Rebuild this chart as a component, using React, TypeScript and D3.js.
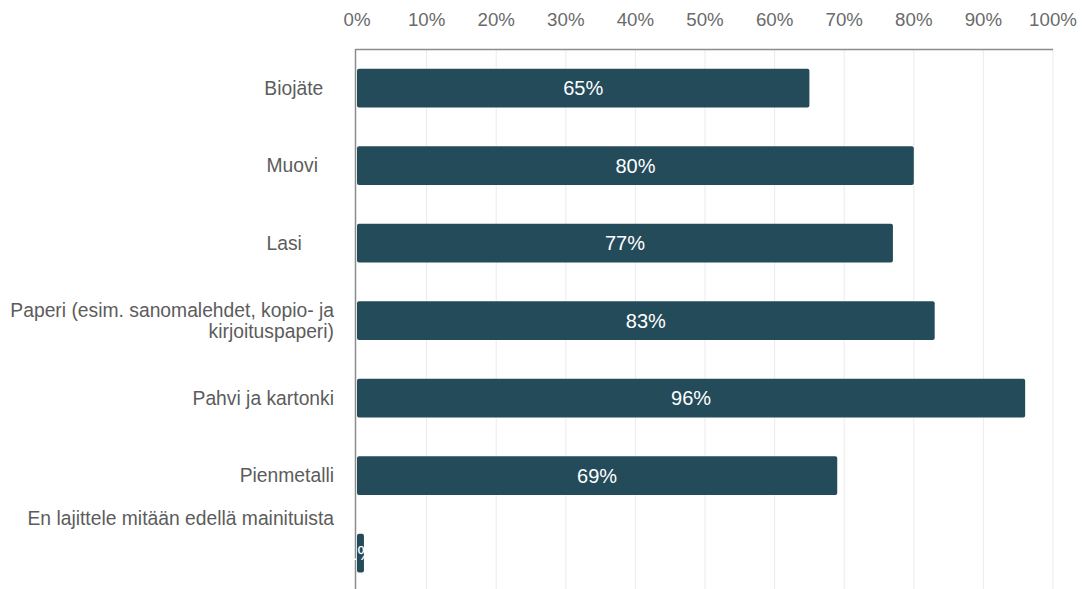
import React from "react";
import * as d3 from "d3";

const categories = [
  "Biojäte",
  "Muovi",
  "Lasi",
  "Paperi (esim. sanomalehdet, kopio- ja kirjoituspaperi)",
  "Pahvi ja kartonki",
  "Pienmetalli",
  "En lajittele mitään edellä mainituista",
];
const labelLines: string[][] = [
  ["Biojäte\u00a0\u00a0"],
  ["Muovi\u00a0\u00a0\u00a0"],
  ["Lasi\u00a0\u00a0\u00a0\u00a0\u00a0\u00a0"],
  ["Paperi (esim. sanomalehdet, kopio- ja", "kirjoituspaperi)"],
  ["Pahvi ja kartonki"],
  ["Pienmetalli"],
  ["En lajittele mitään edellä mainituista"],
];
const values = [65, 80, 77, 83, 96, 69, 1];
const ticks = [0, 10, 20, 30, 40, 50, 60, 70, 80, 90, 100];

const W = 1082;
const H = 589;
const FONT = "'Liberation Sans', Arial, sans-serif";

export default function App() {
  const x = d3.scaleLinear().domain([0, 100]).range([357, 1053]);
  const y = d3
    .scaleBand<string>()
    .domain(categories)
    .range([49.25, 49.25 + 77.5 * categories.length])
    .paddingInner(0.5)
    .paddingOuter(0.25);
  const bw = y.bandwidth();
  return (
    <svg
      width={W}
      height={H}
      style={{ position: "absolute", left: 0, top: 0, background: "#fff" }}
      fontFamily={FONT}
    >
      {ticks.map((t) => (
        <g key={t}>
          {t > 0 && (
            <line x1={x(t)} x2={x(t)} y1={49} y2={H} stroke="#ebebeb" strokeWidth={1} />
          )}
          <text x={x(t)} y={25.5} textAnchor="middle" fontSize={18.7} fill="#6a6a6a">
            {t}%
          </text>
        </g>
      ))}
      <line x1={355.5} x2={1053} y1={49.5} y2={49.5} stroke="#8c8c8c" strokeWidth={1.5} />
      <line x1={355.5} x2={355.5} y1={49} y2={H} stroke="#8c8c8c" strokeWidth={1.5} />
      {categories.map((c, i) => {
        const cy = (y(c) as number) + bw / 2;
        const lines = labelLines[i];
        const offset = i === categories.length - 1 ? -35 : 0;
        const lh = 20.5;
        return (
          <g key={c}>
            <rect
              x={x(0)}
              y={y(c)}
              width={x(values[i]) - x(0)}
              height={bw}
              rx={2}
              fill="#244b5a"
            />
            <text
              x={(x(0) + x(values[i])) / 2}
              y={cy}
              dy="0.36em"
              textAnchor="middle"
              fontSize={20}
              fill="#fff"
            >
              {values[i]}%
            </text>
            {lines.map((l, j) => (
              <text
                key={j}
                x={334}
                y={cy + offset + (j - (lines.length - 1) / 2) * lh}
                dy="0.36em"
                textAnchor="end"
                fontSize={19.3}
                fill="#5c5c5c"
                style={{ whiteSpace: "pre" }}
              >
                {l}
              </text>
            ))}
          </g>
        );
      })}
    </svg>
  );
}
